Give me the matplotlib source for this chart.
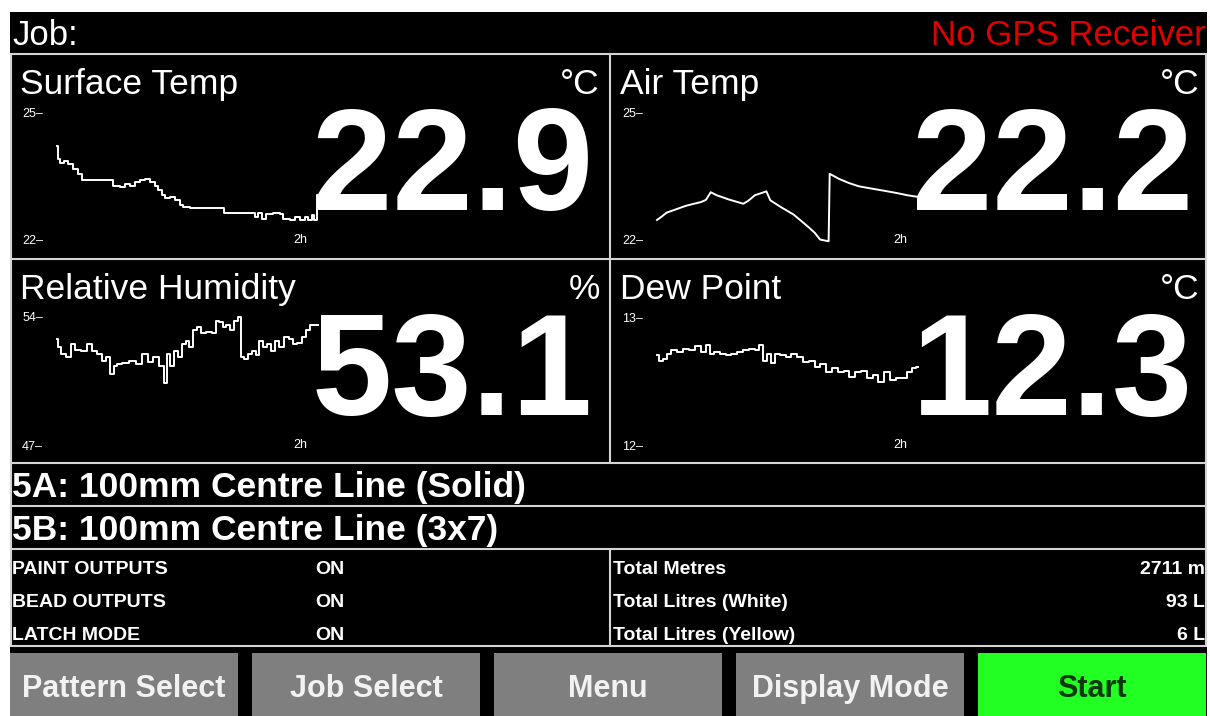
import matplotlib
matplotlib.use("Agg")
import matplotlib.pyplot as plt
from matplotlib.patches import Rectangle
from matplotlib import font_manager

plt.rcParams['font.family'] = ['Liberation Sans', 'DejaVu Sans']

# ---------------- data ----------------
header_left = "Job:"
header_right = "No GPS Receiver"

panel_titles = ["Surface Temp", "Air Temp", "Relative Humidity", "Dew Point"]
panel_units = ["°C", "°C", "%", "°C"]
panel_values = ["22.9", "22.2", "53.1", "12.3"]
panel_lo = [22, 22, 47, 12]
panel_hi = [25, 25, 54, 13]
time_label = "2h"

surface_t = [0, 0.5, 1.4, 3.2, 5.0, 7.4, 9.7, 11.5, 15.2, 24.4, 25.8, 29.0, 31.3, 33.6, 35.9,
             38.2, 40.5, 42.8, 45.1, 46.5, 48.3, 49.7, 52.0, 54.3, 56.6, 58.0, 61.2, 75.9, 76.8,
             88.8, 91.1, 92.5, 94.3, 96.1, 99.4, 102.6, 104.0, 107.2, 109.5, 111.8, 114.1, 115.5,
             117.3, 118.2, 119.6, 120]
surface_v = [24.20, 23.90, 23.80, 23.84, 23.77, 23.67, 23.55, 23.40, 23.40, 23.40, 23.27, 23.25,
             23.32, 23.27, 23.37, 23.40, 23.42, 23.35, 23.27, 23.17, 23.05, 22.98, 23.00, 22.93,
             22.83, 22.78, 22.75, 22.75, 22.63, 22.63, 22.53, 22.63, 22.50, 22.60, 22.63, 22.60,
             22.50, 22.48, 22.53, 22.48, 22.55, 22.46, 22.58, 22.48, 23.05, 23.05]

air_t = [0, 2.2, 4.4, 8.8, 13.2, 17, 20.3, 22.5, 24.7, 27.4, 33, 39.7, 42, 45, 48, 50.3, 52.1,
         57, 62.7, 66, 69.7, 72.5, 75, 78.9, 79.4, 83.8, 88, 92.7, 97, 101.5, 106, 110.3, 115, 120]
air_v = [22.47, 22.55, 22.64, 22.72, 22.80, 22.85, 22.89, 22.94, 23.12, 23.05, 22.95, 22.85,
         22.92, 23.05, 23.10, 23.14, 22.93, 22.77, 22.60, 22.46, 22.30, 22.17, 22.01, 21.97,
         23.55, 23.43, 23.34, 23.26, 23.22, 23.18, 23.14, 23.10, 23.05, 23.01]

rh_t = [0, 0.9, 2.7, 5.4, 7.2, 9.8, 12.5, 15.2, 17, 19.7, 21.5, 23.3, 25.1, 26.9, 28.6, 31.3,
        34.9, 37.6, 40.3, 43, 45.6, 48.3, 50.1, 51, 52.8, 54.6, 56.4, 58.2, 60, 61.8, 63.5, 65.3,
        67.1, 69.8, 72.5, 73.4, 75.2, 77, 78.8, 80.5, 82.3, 84.1, 85, 86.8, 88.6, 90.4, 92.2, 94,
        95.8, 97.6, 99.3, 101.1, 102.9, 105.6, 107.4, 109.2, 111.9, 113.7, 115.5, 117.2, 120]
rh_v = [52.82, 52.36, 52.0, 51.8, 52.5, 52.2, 52.15, 52.5, 52.15, 52.0, 51.6, 51.8, 50.9, 51.3,
        51.45, 51.5, 51.6, 51.45, 52.0, 51.55, 51.8, 51.3, 50.4, 52.0, 51.3, 52.15, 51.8, 52.5,
        52.7, 52.36, 53.27, 53.45, 53.1, 53.2, 53.1, 53.8, 53.7, 53.45, 53.55, 53.27, 53.8, 54.0,
        51.8, 51.7, 52.0, 52.15, 51.9, 52.7, 52.36, 52.5, 52.15, 52.7, 52.36, 52.9, 52.8, 52.5,
        52.6, 52.9, 53.27, 53.55, 53.55]

dew_t = [0, 1.8, 3.6, 5.3, 8, 10.7, 13.3, 16, 18.7, 21.3, 23.5, 24.9, 27.6, 30.2, 32.9, 35.6,
         38.2, 40.9, 43.6, 46.2, 48, 49.8, 51.6, 53.3, 55.1, 57.8, 60.4, 63.1, 65.8, 68.4, 71.1,
         73.8, 76.4, 79.1, 81.8, 84.4, 87.1, 89.8, 92.4, 95.1, 97.8, 100.4, 103.1, 105.8, 108.4,
         111.1, 113.8, 116.4, 118.2, 120]
dew_v = [12.70, 12.66, 12.675, 12.71, 12.74, 12.73, 12.75, 12.74, 12.77, 12.73, 12.78, 12.71,
         12.73, 12.71, 12.70, 12.71, 12.73, 12.74, 12.75, 12.74, 12.78, 12.66, 12.71, 12.64,
         12.71, 12.70, 12.69, 12.71, 12.69, 12.65, 12.66, 12.61, 12.63, 12.57, 12.60, 12.57,
         12.58, 12.53, 12.57, 12.58, 12.52, 12.55, 12.49, 12.57, 12.51, 12.52, 12.52, 12.57,
         12.60, 12.61]

series_t = [surface_t, air_t, rh_t, dew_t]
series_v = [surface_v, air_v, rh_v, dew_v]
series_style = ['steps-post', 'default', 'steps-mid', 'steps-mid']

pattern_lines = ["5A: 100mm Centre Line (Solid)", "5B: 100mm Centre Line (3x7)"]

status_labels = ["PAINT OUTPUTS", "BEAD OUTPUTS", "LATCH MODE"]
status_values = ["ON", "ON", "ON"]
total_labels = ["Total Metres", "Total Litres (White)", "Total Litres (Yellow)"]
total_values = ["2711 m", "93 L", "6 L"]

buttons = ["Pattern Select", "Job Select", "Menu", "Display Mode", "Start"]

# ---------------- styling ----------------
W, H = 1210, 716
LINE = '#d4d4d4'
GREY = '#7f7f7f'
GREEN = '#22ff22'
RED = '#e00000'

available = {f.name for f in font_manager.fontManager.ttflist}
if 'Liberation Sans Narrow' in available:
    BIG_FAMILY, BIG_SIZE = ['Liberation Sans Narrow', 'Liberation Sans'], 116
    SMALL_FAMILY, SMALL_SIZE = ['Liberation Sans Narrow', 'Liberation Sans'], 16
else:
    BIG_FAMILY, BIG_SIZE = ['Liberation Sans', 'DejaVu Sans'], 104
    SMALL_FAMILY, SMALL_SIZE = ['Liberation Sans', 'DejaVu Sans'], 14

fig = plt.figure(figsize=(W / 100, H / 100), dpi=100)
fig.patch.set_facecolor('white')
bg = fig.add_axes([0, 0, 1, 1])
bg.set_xlim(0, W)
bg.set_ylim(H, 0)
bg.axis('off')

bg.add_patch(Rectangle((10, 12), 1197, 704, facecolor='black', edgecolor='none'))

# separator lines
for y, x0, x1 in [(53.5, 10, 1207), (259, 10, 1207), (462.5, 10, 1207),
                  (506, 10, 1207), (549, 10, 1207), (646, 10, 1207)]:
    bg.plot([x0, x1], [y, y], color=LINE, lw=1.5, solid_capstyle='butt')
for x, y0, y1 in [(609.5, 53.5, 462.5), (609.5, 549, 646), (11, 53.5, 646), (1206, 53.5, 646)]:
    bg.plot([x, x], [y0, y1], color=LINE, lw=1.5, solid_capstyle='butt')

# header
bg.text(12, 45, header_left, color='white', fontsize=25, ha='left', va='baseline')
bg.text(1206, 45, header_right, color=RED, fontsize=25, ha='right', va='baseline')

# panels
origins = [(10, 55), (610, 55), (10, 260), (610, 260)]
for i, (px, py) in enumerate(origins):
    bg.text(px + 10, py + 39, panel_titles[i], color='white', fontsize=25.5,
            ha='left', va='baseline')
    bg.text(px + 590, py + 39, panel_units[i], color='white', fontsize=25.5,
            ha='right', va='baseline')
    bg.text(px + 583, py + 155, panel_values[i], color='white', fontsize=BIG_SIZE,
            family=BIG_FAMILY, fontweight='bold', ha='right', va='baseline')

    # sparkline
    x0, x1 = px + 47, px + 308
    y0, y1 = py + 57, py + 185
    ax = fig.add_axes([x0 / W, 1 - y1 / H, (x1 - x0) / W, (y1 - y0) / H])
    ax.set_facecolor('none')
    ax.plot(series_t[i], series_v[i], color='white', lw=1.4, drawstyle=series_style[i],
            clip_on=False)
    ax.set_xlim(0, 120)
    ax.set_ylim(panel_lo[i], panel_hi[i])
    ax.set_yticks([panel_lo[i], panel_hi[i]])
    ax.set_yticklabels([f"{panel_lo[i]}–", f"{panel_hi[i]}–"])
    ax.set_xticks([])
    ax.tick_params(axis='y', length=0, pad=10, labelsize=9, labelcolor='white')
    for s in ax.spines.values():
        s.set_visible(False)
    ax.text(112, panel_lo[i], time_label, color='white', fontsize=9, ha='center', va='center')

# pattern lines
for j, txt in enumerate(pattern_lines):
    bg.text(12, 497 + j * 43, txt, color='white', fontsize=25.5, fontweight='bold',
            ha='left', va='baseline')

# status table
for j in range(3):
    yb = 574 + j * 33
    kw = dict(color='white', fontsize=SMALL_SIZE, family=SMALL_FAMILY, fontweight='bold',
              va='baseline')
    bg.text(12, yb, status_labels[j], ha='left', **kw)
    bg.text(315, yb, status_values[j], ha='left', **kw)
    bg.text(613, yb, total_labels[j], ha='left', **kw)
    bg.text(1205, yb, total_values[j], ha='right', **kw)

# buttons
bx = [10, 252, 494, 736, 978]
for k, label in enumerate(buttons):
    is_start = label == "Start"
    bg.add_patch(Rectangle((bx[k], 653), 228, 63, facecolor=GREEN if is_start else GREY,
                           edgecolor='none'))
    bg.text(bx[k] + 114, 689, label, color='#0a3a0a' if is_start else '#f2f2f2',
            fontsize=22, fontweight='bold', ha='center', va='center')

fig.savefig('out.png', dpi=100, facecolor=fig.get_facecolor())
